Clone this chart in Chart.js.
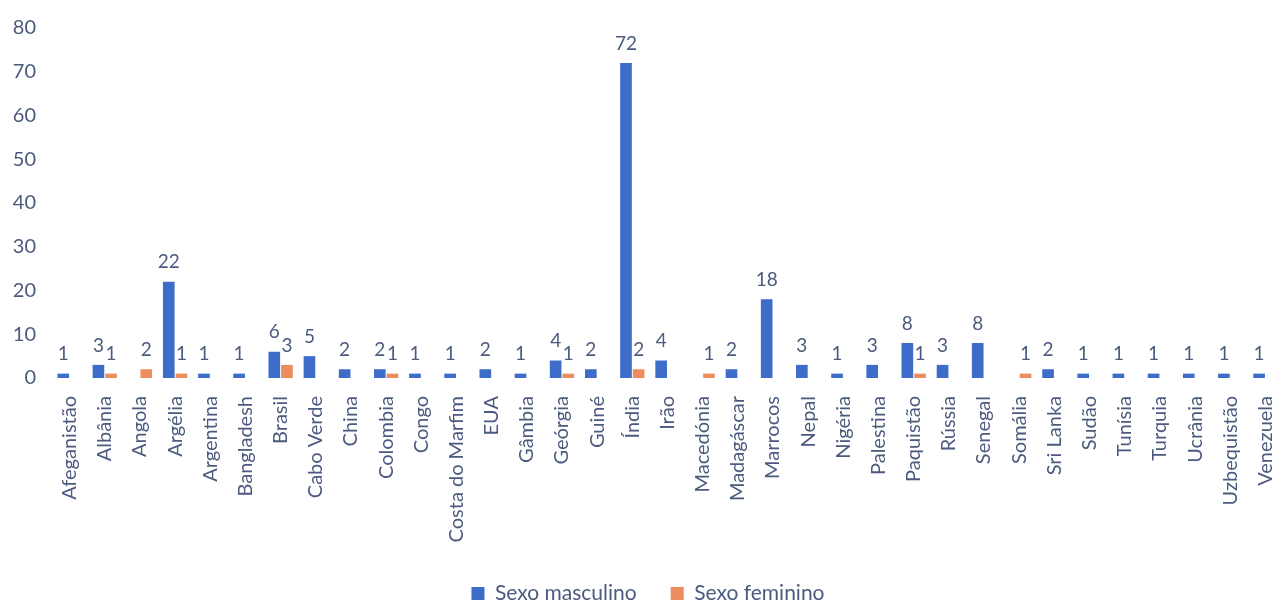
<!DOCTYPE html>
<html>
<head>
<meta charset="utf-8">
<script src="https://cdn.jsdelivr.net/npm/chart.js@4/dist/chart.umd.min.js"></script>
<style>
  html, body { margin: 0; padding: 0; background: #fff; overflow: hidden; }
  #view { width: 1274px; height: 601px; overflow: hidden; }
  #wrap { width: 1283px; height: 614px; position: relative; }
</style>
</head>
<body>
<div id="view"><div id="wrap"><canvas id="chart"></canvas></div></div>
<script>
const countries = ['Afeganistão', 'Albânia', 'Angola', 'Argélia', 'Argentina', 'Bangladesh', 'Brasil',
  'Cabo Verde', 'China', 'Colombia', 'Congo', 'Costa do Marfim', 'EUA', 'Gâmbia', 'Geórgia', 'Guiné',
  'Índia', 'Irão', 'Macedónia', 'Madagáscar', 'Marrocos', 'Nepal', 'Nigéria', 'Palestina', 'Paquistão',
  'Rússia', 'Senegal', 'Somália', 'Sri Lanka', 'Sudão', 'Tunísia', 'Turquia', 'Ucrânia', 'Uzbequistão',
  'Venezuela'];

const male = [1, 3, null, 22, 1, 1, 6, 5, 2, 2, 1, 1, 2, 1, 4, 2, 72, 4, null, 2, 18, 3, 1, 3, 8,
  3, 8, null, 2, 1, 1, 1, 1, 1, 1];
const female = [null, 1, 2, 1, null, null, 3, null, null, 1, null, null, null, null, 1, null, 2, null, 1, null,
  null, null, null, null, 1, null, null, 1, null, null, null, null, null, null, null];

const yTicks = [0, 10, 20, 30, 40, 50, 60, 70, 80];

const textColor = '#4b5a7e';

// draws the value above each bar
const barLabels = {
  id: 'barLabels',
  afterDatasetsDraw(chart) {
    const ctx = chart.ctx;
    ctx.save();
    ctx.fillStyle = textColor;
    ctx.font = '19px Lato';
    ctx.textAlign = 'center';
    ctx.textBaseline = 'bottom';
    chart.data.datasets.forEach((ds, i) => {
      chart.getDatasetMeta(i).data.forEach((bar, j) => {
        const v = ds.data[j];
        if (v == null) return;
        ctx.fillText(String(v), bar.x, bar.y - 10);
      });
    });
    ctx.restore();
  }
};

new Chart(document.getElementById('chart'), {
  type: 'bar',
  data: {
    labels: countries,
    datasets: [
      { label: 'Sexo masculino', data: male, backgroundColor: '#3d6cc9' },
      { label: 'Sexo feminino', data: female, backgroundColor: '#eb8d5c' }
    ]
  },
  options: {
    responsive: true,
    maintainAspectRatio: false,
    animation: false,
    layout: { padding: { left: 13, right: 0, top: 5, bottom: 0 } },
    categoryPercentage: 0.72,
    barPercentage: 0.92,
    scales: {
      x: {
        grid: { display: false, drawTicks: false },
        border: { display: false },
        ticks: {
          color: textColor,
          font: { family: 'Lato', size: 20 },
          minRotation: 90,
          maxRotation: 90,
          autoSkip: false,
          padding: 18
        },
        afterFit(axis) {
          axis.paddingLeft = 0;
          axis.paddingRight = 0;
          axis.height = 171;
        }
      },
      y: {
        min: 0,
        max: 80,
        grid: { display: false, drawTicks: false },
        border: { display: false },
        afterBuildTicks(axis) {
          axis.ticks = yTicks.map(v => ({ value: v }));
        },
        afterFit(axis) {
          axis.width = 39;
        },
        ticks: {
          color: textColor,
          font: { family: 'Lato', size: 20 },
          padding: 16
        }
      }
    },
    plugins: {
      legend: {
        position: 'bottom',
        labels: {
          color: textColor,
          font: { family: 'Lato', size: 21 },
          boxWidth: 13,
          boxHeight: 13,
          padding: 34
        }
      },
      tooltip: { enabled: false }
    }
  },
  plugins: [barLabels]
});
</script>
</body>
</html>
